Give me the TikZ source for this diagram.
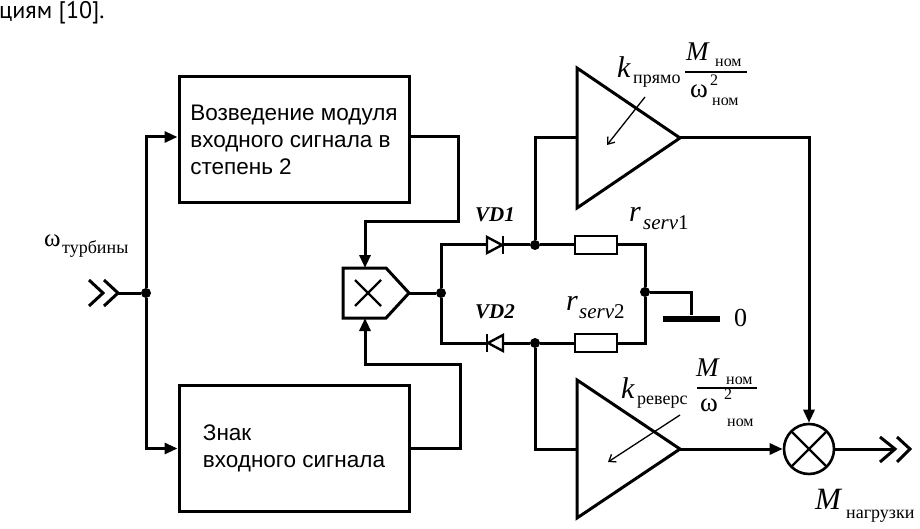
\documentclass[tikz,border=0pt]{standalone}
\usepackage{fontspec}
\setmainfont{Liberation Serif}
\setsansfont{Liberation Sans}
\newfontfamily\ptsans{PT Sans}
\usetikzlibrary{arrows.meta}
\tikzset{
  wire/.style={line width=3pt},
  conn/.style={wire, -{Triangle[length=13pt,width=11pt]}},
  blk/.style={draw, line width=3pt, minimum width=230pt, minimum height=126pt,
    align=left, inner sep=0pt, font=\sffamily\fontsize{22.5}{27}\selectfont},
  jdot/.style={circle, fill=black, inner sep=0pt, minimum size=10pt},
  res/.style={draw, line width=2pt, fill=white, minimum width=42pt, minimum height=18pt, inner sep=0pt},
  sumc/.style={circle, draw, line width=2.6pt, minimum size=50pt, inner sep=0pt,
    path picture={\draw[line width=2.2pt] (path picture bounding box.north west) -- (path picture bounding box.south east)
      (path picture bounding box.south west) -- (path picture bounding box.north east);}},
  thinarr/.style={line width=1.3pt, -{Straight Barb[length=6pt,width=9pt]}},
  lbl/.style={anchor=base west, inner sep=0pt},
  gndbar/.style={fill=black, minimum width=57pt, minimum height=6pt, inner sep=0pt},
}
\newcommand{\fsz}[1]{\fontsize{#1}{#1}\selectfont}
\begin{document}
\begin{tikzpicture}[x=1pt,y=-1pt]
\useasboundingbox (0,0) rectangle (920,529);
\fill[white] (0,0) rectangle (920,529);

% caption fragment
\node[lbl, font=\ptsans\fsz{24}] (cap) at (-1,19) {циям [10].};

% blocks
\node[blk] (b1) at (294,140) {Возведение модуля\\входного сигнала в\\степень 2};
\node[blk] (b2) at (294,448.5) {Знак\\входного сигнала};

% input chevrons
\draw[wire] (89,280) -- (103,293) -- (89,306);
\draw[wire] (104,280) -- (118,293) -- (104,306);
\coordinate (inA) at (118,293);
\node[jdot] (J) at (146,293) {};
\draw[wire] (inA) -- (J);
\draw[conn] (J) |- ([yshift=3pt]b1.west);
\draw[conn] (J) |- (b2.west);

% multiplier
\draw[wire, line join=miter] (343,268) -- (386,268) -- (409,293) -- (386,318) -- (343,318) -- cycle;
\draw[line width=2.2pt] (355,280) -- (381,306) (355,306) -- (381,280);
\coordinate (mulT) at (365,268);
\coordinate (mulB) at (365,318);
\coordinate (mulO) at (409,293);
\draw[conn] ([yshift=3pt]b1.east) -- ++(48,0) |- (365,222) -- (mulT);
\draw[conn] (b2.east) -- ++(50,0) |- (365,364) -- (mulB);

% bridge
\node[jdot] (L) at (441,293) {};
\node[jdot] (A) at (535,245) {};
\node[jdot] (B) at (535,343) {};
\node[jdot] (R) at (645,292) {};
\node[res] (r1) at (596,245) {};
\node[res] (r2) at (596,343) {};
\coordinate (vd1a) at (487,245);
\coordinate (vd1k) at (503,245);
\coordinate (vd2a) at (503,343);
\coordinate (vd2k) at (487,343);
\draw[wire] (mulO) -- (L);
\draw[wire] (L) |- (vd1a);
\draw[wire] (vd1k) -- (A);
\draw[wire] (A) -- (r1);
\draw[wire] (r1) -| (R);
\draw[wire] (R) |- (r2);
\draw[wire] (r2) -- (B);
\draw[wire] (B) -- (vd2a);
\draw[wire] (vd2k) -| (L);
% diodes
\draw[line width=2.4pt, line join=miter] (487,237) -- (502,245) -- (487,253) -- cycle;
\draw[line width=2.8pt] (503,236) -- (503,254);
\draw[line width=2.4pt, line join=miter] (503,335) -- (488,343) -- (503,351) -- cycle;
\draw[line width=2.8pt] (487,334) -- (487,352);
% ground
\node[gndbar] (gnd) at (691.5,318.5) {};
\draw[wire] (R) -| (gnd.north);
\node[lbl, font=\fsz{26}] (zero) at (734,326) {0};

% amplifiers
\draw[wire, line join=miter] (577,68) -- (680,138) -- (577,208) -- cycle;
\draw[wire, line join=miter] (577,380) -- (680,449) -- (577,518) -- cycle;
\coordinate (amp1in) at (577,138);
\coordinate (amp1out) at (680,138);
\coordinate (amp2in) at (577,449);
\coordinate (amp2out) at (680,449);
\draw[wire] (A) |- (amp1in);
\draw[wire] (B) |- (amp2in);
\draw[thinarr] (645,97) -- (607,145);
\draw[thinarr] (680,415) -- (608,462);

% summing junction
\node[sumc] (sum) at (809,449) {};
\draw[conn] (amp1out) -| (sum.north);
\draw[conn] (amp2out) -- (sum.west);
\coordinate (outA) at (895,449);
\draw[wire] (sum.east) -- (outA);
\draw[wire] (880,437) -- (895,449) -- (880,462);
\draw[wire] (897,437) -- (910,449) -- (897,462);

% labels
\node[lbl, font=\fsz{25}] (om) at (44,247) {ω};
\node[lbl, font=\fsz{18}] (omsub) at (62,254) {турбины};

\node[lbl, font=\bfseries\itshape\fsz{21}] (vd1) at (475,222) {VD1};
\node[lbl, font=\bfseries\itshape\fsz{21}] (vd2) at (475,318) {VD2};

\node[lbl, font=\itshape\fsz{30}] (rs1) at (629,222) {r};
\node[lbl, font=\fsz{21}] (rs1s) at (643,230) {\itshape serv\upshape 1};
\node[lbl, font=\itshape\fsz{30}] (rs2) at (566,310) {r};
\node[lbl, font=\fsz{21}] (rs2s) at (579,318) {\itshape serv\upshape 2};

% top gain
\node[lbl, font=\itshape\fsz{30}] (k1) at (617,78) {k};
\node[lbl, font=\fsz{18}] (k1s) at (633,84) {прямо};
\node[lbl, font=\itshape\fsz{27}] (m1) at (686,61) {M};
\node[lbl, font=\fsz{16}] (m1s) at (715,67) {ном};
\draw[line width=1.6pt] (685,72) -- (747,72);
\node[lbl, font=\fsz{27}] (w1) at (690,98) {ω};
\node[lbl, font=\fsz{16}] (w1p) at (710,86) {2};
\node[lbl, font=\fsz{16}] (w1s) at (712,106) {ном};

% bottom gain
\node[lbl, font=\itshape\fsz{30}] (k2) at (621,398) {k};
\node[lbl, font=\fsz{18}] (k2s) at (637,404) {реверс};
\node[lbl, font=\itshape\fsz{27}] (m2) at (696,376) {M};
\node[lbl, font=\fsz{16}] (m2s) at (726,384) {ном};
\draw[line width=1.6pt] (697,388) -- (757,388);
\node[lbl, font=\fsz{27}] (w2) at (700,411) {ω};
\node[lbl, font=\fsz{16}] (w2p) at (724,399) {2};
\node[lbl, font=\fsz{16}] (w2s) at (727,426) {ном};

% output label
\node[lbl, font=\itshape\fsz{31}] (mout) at (815,509) {M};
\node[lbl, font=\fsz{18}] (mouts) at (846,518) {нагрузки};
\end{tikzpicture}
\end{document}
